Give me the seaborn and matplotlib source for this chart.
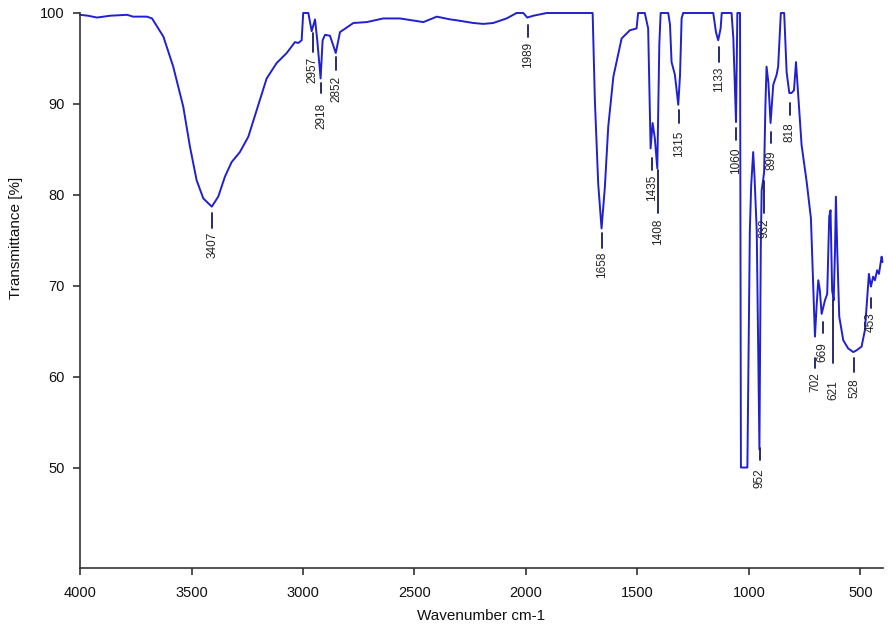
import matplotlib
matplotlib.use("Agg")
import matplotlib.pyplot as plt
import pandas as pd
import seaborn as sns

# FTIR spectrum
wavenumber = [4000, 3964, 3924, 3865, 3789, 3762, 3700, 3677, 3626, 3582,
              3537, 3507, 3477, 3447, 3409, 3380, 3350, 3320, 3283, 3245,
              3208, 3163, 3118, 3073, 3036, 3021, 3006, 2999, 2976, 2961,
              2946, 2936, 2921, 2912, 2901, 2879, 2853, 2834, 2774, 2714,
              2640, 2565, 2460, 2400, 2341, 2311, 2236, 2191, 2147, 2087,
              2042, 2012, 1994, 1967, 1907, 1701, 1691, 1676, 1661, 1646,
              1631, 1608, 1571, 1534, 1504, 1497, 1467, 1452, 1441, 1432,
              1422, 1411, 1402, 1396, 1362, 1354, 1347, 1332, 1317, 1309,
              1302, 1295, 1160, 1148, 1138, 1127, 1122, 1078, 1070, 1058,
              1052, 1040, 1036, 1007, 996, 990, 981, 975, 965, 953,
              947, 943, 937, 932, 926, 921, 913, 903, 891, 876,
              869, 857, 842, 831, 819, 809, 798, 789, 779, 764,
              741, 722, 712, 704, 696, 689, 682, 674, 659, 649,
              640, 634, 627, 620, 614, 610, 604, 595, 577, 555,
              532, 517, 495, 480, 465, 462, 453, 443, 435, 425,
              417, 405, 401]
transmittance = [99.8, 99.7, 99.5, 99.7, 99.8, 99.6, 99.6, 99.4, 97.4, 94.1,
                 89.7, 85.3, 81.6, 79.6, 78.7, 79.8, 82.0, 83.6, 84.7, 86.4,
                 89.3, 92.8, 94.5, 95.6, 96.8, 96.7, 97.0, 100, 100, 98.0,
                 99.3, 97.0, 92.8, 97.0, 97.6, 97.5, 95.6, 97.9, 98.9, 99.0,
                 99.4, 99.4, 99.0, 99.6, 99.3, 99.2, 98.9, 98.8, 98.9, 99.4,
                 100, 100, 99.5, 99.7, 100, 100, 90.4, 81.2, 76.3, 80.9,
                 87.5, 93.0, 97.2, 98.1, 98.3, 100, 100, 98.3, 85.1, 87.9,
                 86.2, 82.9, 96.5, 100, 100, 98.7, 94.6, 93.2, 89.9, 93.2,
                 99.4, 100, 100, 97.9, 97.0, 98.3, 100, 100, 97.2, 88.0,
                 100, 100, 50, 50, 76.0, 81.0, 84.7, 82.0, 76.0, 52.0,
                 74.0, 80.5, 81.5, 82.5, 90.0, 94.1, 92.4, 87.9, 92.1, 93.2,
                 94.1, 100, 100, 93.5, 91.2, 91.2, 91.5, 94.6, 91.0, 85.5,
                 81.4, 77.4, 70.2, 64.4, 68.0, 70.6, 69.5, 66.9, 68.4, 69.1,
                 77.6, 78.3, 69.5, 68.4, 73.9, 79.8, 73.9, 66.6, 64.0, 63.1,
                 62.7, 62.9, 63.3, 65.1, 70.2, 71.3, 69.9, 71.0, 70.6, 71.7,
                 71.3, 73.2, 72.6]

# peak annotations: wavenumber, tick top, tick bottom, text top (in % T)
peak_wn = [3407, 2957, 2918, 2852, 1989, 1658, 1435, 1408, 1315, 1133,
           1060, 952, 932, 899, 818, 702, 669, 621, 528, 453]
tick_top = [78.0, 97.8, 92.3, 95.2, 98.7, 75.8, 84.0, 82.7, 89.3, 96.3,
            87.3, 52.2, 81.5, 86.9, 90.1, 62.1, 66.0, 68.4, 62.0, 68.7]
tick_bot = [76.4, 95.7, 91.2, 93.7, 97.4, 74.2, 82.7, 78.0, 87.9, 94.6,
            86.0, 50.8, 78.0, 85.7, 88.8, 60.9, 64.8, 61.5, 60.5, 67.6]
text_top = [75.9, 95.2, 90.1, 93.1, 96.8, 73.7, 82.2, 77.4, 87.1, 94.1,
            85.2, 49.9, 77.4, 84.9, 88.0, 60.5, 63.8, 59.6, 59.8, 67.1]

df = pd.DataFrame({'Wavenumber': wavenumber, 'Transmittance': transmittance})

sns.set_style('ticks')
plt.rcParams['font.family'] = ['Liberation Sans', 'DejaVu Sans']

fig = plt.figure(figsize=(8.93, 6.31), dpi=100)
ax = fig.add_axes([0.0896, 0.1006, 0.8989, 0.8788])

sns.lineplot(data=df, x='Wavenumber', y='Transmittance', sort=False,
             estimator=None, color='#2020d0', linewidth=1.4, ax=ax)
for line in ax.get_lines():
    line.set_clip_on(False)

for wn, t0, t1, tt in zip(peak_wn, tick_top, tick_bot, text_top):
    ax.plot([wn, wn], [t0, t1], color='#1a1a60', linewidth=1.3)
    ax.text(wn, tt, str(wn), rotation=90, ha='center', va='top',
            fontsize=8.5, color='#222222')

ax.set_xlim(4000, 400)
ax.set_ylim(39, 100)
ax.set_xticks([4000, 3500, 3000, 2500, 2000, 1500, 1000, 500])
ax.set_yticks([50, 60, 70, 80, 90, 100])

sns.despine(ax=ax)
for side in ['left', 'bottom']:
    ax.spines[side].set_linewidth(1.2)
    ax.spines[side].set_color('#333333')
ax.tick_params(axis='both', length=5, width=1.2, color='#333333',
               labelsize=10.5, labelcolor='#111111')
ax.tick_params(axis='x', pad=8)
ax.tick_params(axis='y', pad=6)

ax.set_xlabel('Wavenumber cm-1', fontsize=11, color='#111111')
ax.set_ylabel('Transmittance [%]', fontsize=11, color='#111111')
ax.xaxis.set_label_coords(0.5, -0.075)
ax.yaxis.set_label_coords(-0.071, 0.594)

fig.savefig('out.png', dpi=100)
